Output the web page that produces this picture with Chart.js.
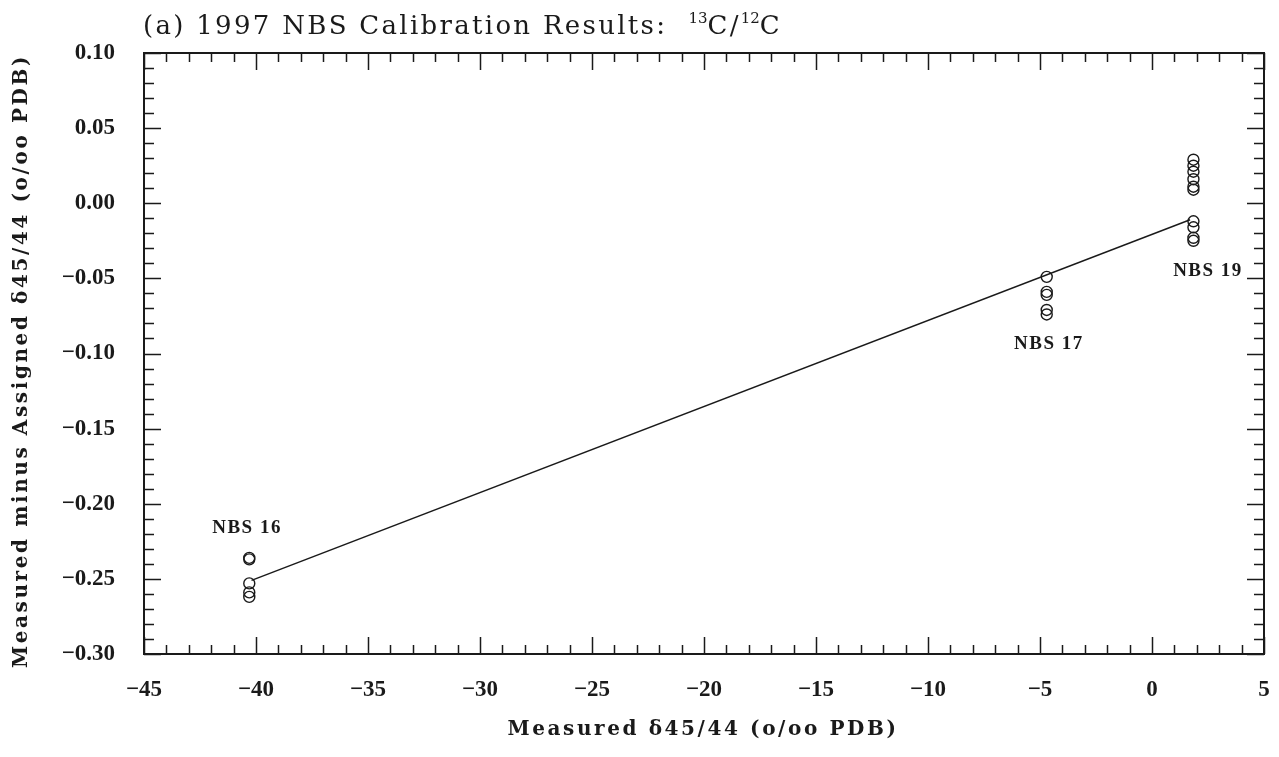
<!DOCTYPE html>
<html>
<head>
<meta charset="utf-8">
<script src="https://cdn.jsdelivr.net/npm/chart.js@4.4.0/dist/chart.umd.min.js"></script>
<style>
  html, body { margin: 0; padding: 0; background: #fff; }
</style>
</head>
<body>
<canvas id="calChart" width="1279" height="757"></canvas>
<script>
// Standards and their measured delta 45/44 (o/oo PDB)
const standards = ['NBS 16', 'NBS 17', 'NBS 19'];
const measuredX = [-40.3, -4.7, 1.85];
// measured minus assigned, per standard
const nbs16Diff = [-0.236, -0.237, -0.253, -0.259, -0.262];
const nbs17Diff = [-0.049, -0.059, -0.061, -0.071, -0.074];
const nbs19Diff = [0.029, 0.025, 0.021, 0.016, 0.011, 0.009, -0.012, -0.016, -0.023, -0.025];
// fitted line end points
const fitX = [-40.2, 1.7];
const fitY = [-0.251, -0.011];
// where the standard names sit (data units)
const labelX = [-40.4, -4.6, 2.5];
const labelY = [-0.216, -0.094, -0.045];

const xTicks = [-45, -40, -35, -30, -25, -20, -15, -10, -5, 0, 5];
const yTicks = [0.10, 0.05, 0.00, -0.05, -0.10, -0.15, -0.20, -0.25, -0.30];

const allDiffs = [nbs16Diff, nbs17Diff, nbs19Diff];
const points = [];
allDiffs.forEach(function (arr, i) {
    arr.forEach(function (d) { points.push({ x: measuredX[i], y: d }); });
});
const fitPoints = fitX.map(function (x, i) { return { x: x, y: fitY[i] }; });

const INK = '#1a1a1a';
const SERIF = '"Liberation Serif", "DejaVu Serif", serif';
const WIDE_SERIF = '"DejaVu Serif", "Liberation Serif", serif';

function minusFmt(v, digits) {
    const s = Math.abs(v).toFixed(digits);
    return (v < -1e-9 ? '\u2212' : '') + s;
}

// box frame + inward ticks on all four sides
const framePlugin = {
    id: 'frame',
    afterDraw(chart) {
        const ctx = chart.ctx;
        const a = chart.chartArea;
        const xs = chart.scales.x, ys = chart.scales.y;
        ctx.save();
        ctx.strokeStyle = INK;
        ctx.lineWidth = 2;
        ctx.strokeRect(a.left, a.top, a.right - a.left, a.bottom - a.top);
        ctx.lineWidth = 1.5;
        ctx.beginPath();
        for (let v = -45; v <= 5; v++) {
            const len = (v % 5 === 0) ? 17 : 9;
            const px = Math.round(xs.getPixelForValue(v)) + 0.5;
            ctx.moveTo(px, a.bottom); ctx.lineTo(px, a.bottom - len);
            ctx.moveTo(px, a.top); ctx.lineTo(px, a.top + len);
        }
        for (let i = -30; i <= 10; i++) {
            const len = (i % 5 === 0) ? 17 : 10;
            const py = Math.round(ys.getPixelForValue(i / 100)) + 0.5;
            ctx.moveTo(a.left, py); ctx.lineTo(a.left + len, py);
            ctx.moveTo(a.right, py); ctx.lineTo(a.right - len, py);
        }
        ctx.stroke();
        ctx.restore();
    }
};

// titles and standard names
const textPlugin = {
    id: 'texts',
    afterDraw(chart) {
        const ctx = chart.ctx;
        const a = chart.chartArea;
        const xs = chart.scales.x, ys = chart.scales.y;
        ctx.save();
        ctx.fillStyle = INK;
        ctx.textBaseline = 'alphabetic';

        // main title with superscripts
        let tx = a.left - 1;
        const base = 34;
        const big = '26px ' + WIDE_SERIF, small = '15px ' + WIDE_SERIF;
        ctx.textAlign = 'left';
        ctx.letterSpacing = '2.3px';
        ctx.font = big;
        const part1 = '(a) 1997 NBS Calibration Results:  ';
        ctx.fillText(part1, tx, base); tx += ctx.measureText(part1).width;
        ctx.letterSpacing = '0px';
        ctx.font = small;
        ctx.fillText('13', tx, base - 11); tx += ctx.measureText('13').width;
        ctx.letterSpacing = '2.3px';
        ctx.font = big;
        ctx.fillText('C/', tx, base); tx += ctx.measureText('C/').width;
        ctx.letterSpacing = '0px';
        ctx.font = small;
        ctx.fillText('12', tx, base - 11); tx += ctx.measureText('12').width;
        ctx.letterSpacing = '2.3px';
        ctx.font = big;
        ctx.fillText('C', tx, base);

        // x axis title
        ctx.font = 'bold 20px ' + WIDE_SERIF;
        ctx.letterSpacing = '2.6px';
        ctx.textAlign = 'center';
        ctx.textBaseline = 'middle';
        ctx.fillText('Measured \u03b445/44 (o/oo PDB)', 703, 730);

        // y axis title
        ctx.save();
        ctx.translate(22, 361);
        ctx.rotate(-Math.PI / 2);
        ctx.fillText('Measured minus Assigned \u03b445/44 (o/oo PDB)', 0, 0);
        ctx.restore();

        // standard names
        ctx.font = 'bold 19px ' + SERIF;
        ctx.letterSpacing = '1.5px';
        standards.forEach(function (name, i) {
            ctx.fillText(name, xs.getPixelForValue(labelX[i]), ys.getPixelForValue(labelY[i]));
        });
        ctx.restore();
    }
};

const tickFont = { family: SERIF, size: 23, weight: 'bold' };

new Chart(document.getElementById('calChart').getContext('2d'), {
    type: 'scatter',
    data: {
        datasets: [
            {
                type: 'line',
                label: 'fit',
                data: fitPoints,
                borderColor: INK,
                borderWidth: 1.5,
                pointRadius: 0,
                fill: false,
                tension: 0
            },
            {
                label: 'standards',
                data: points,
                pointRadius: 5.5,
                pointBorderWidth: 1.4,
                pointBorderColor: INK,
                pointBackgroundColor: 'rgba(0,0,0,0)',
                showLine: false
            }
        ]
    },
    options: {
        responsive: false,
        animation: false,
        layout: { padding: { top: 53, right: 15, left: 0, bottom: 0 } },
        plugins: {
            legend: { display: false },
            tooltip: { enabled: false },
            title: { display: false }
        },
        scales: {
            x: {
                type: 'linear',
                min: -45,
                max: 5,
                afterFit: function (s) { s.height = 103; s.paddingLeft = 0; s.paddingRight = 0; },
                afterBuildTicks: function (s) { s.ticks = xTicks.map(function (v) { return { value: v }; }); },
                grid: { display: false, drawTicks: false },
                border: { display: false },
                ticks: {
                    padding: 22,
                    color: INK,
                    font: tickFont,
                    maxRotation: 0,
                    callback: function (v) { return minusFmt(v, 0); }
                }
            },
            y: {
                type: 'linear',
                min: -0.30,
                max: 0.10,
                afterFit: function (s) { s.width = 144; s.paddingTop = 0; s.paddingBottom = 0; },
                afterBuildTicks: function (s) { s.ticks = yTicks.map(function (v) { return { value: v }; }); },
                grid: { display: false, drawTicks: false },
                border: { display: false },
                ticks: {
                    padding: 29,
                    color: INK,
                    font: tickFont,
                    callback: function (v) { return minusFmt(v, 2); }
                }
            }
        }
    },
    plugins: [framePlugin, textPlugin]
});
</script>
</body>
</html>
